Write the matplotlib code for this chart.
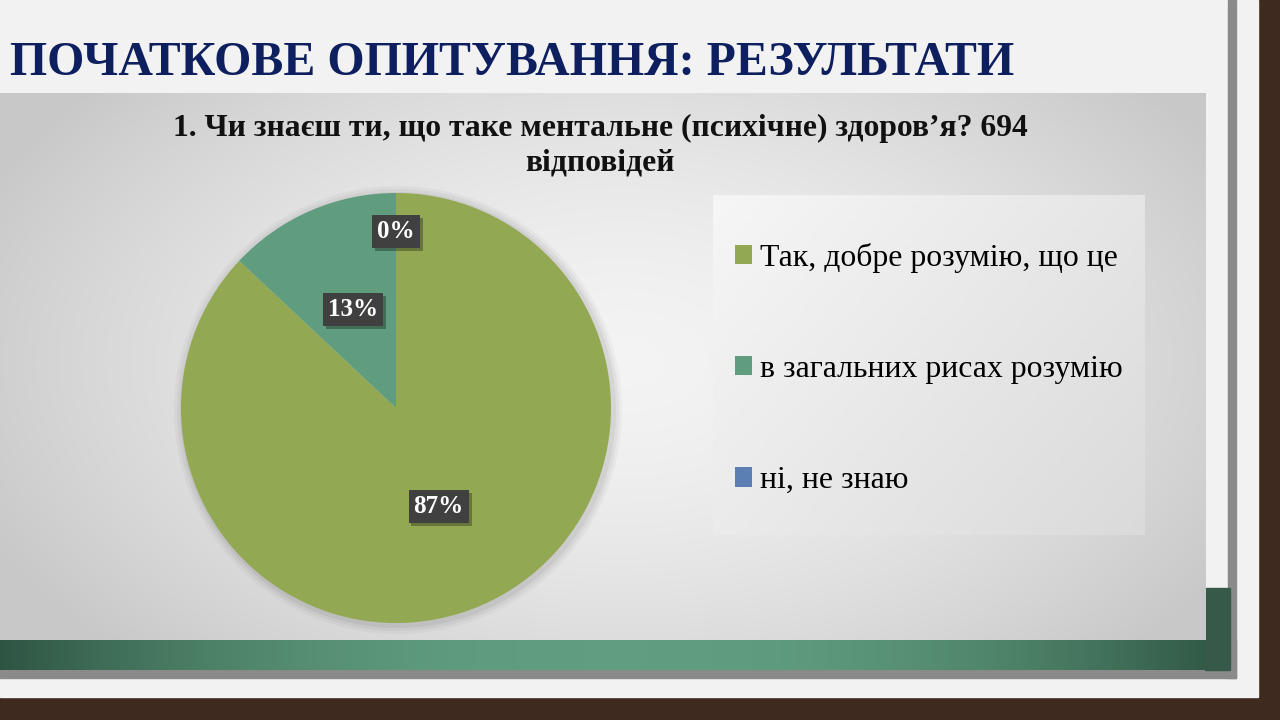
import numpy as np
import matplotlib
matplotlib.use('Agg')
import matplotlib.pyplot as plt
from matplotlib.patches import Rectangle, Circle
import matplotlib.patheffects as pe

slide_title = "ПОЧАТКОВЕ ОПИТУВАННЯ: РЕЗУЛЬТАТИ"
chart_title = "1. Чи знаєш ти, що таке ментальне (психічне) здоров’я? 694\nвідповідей"
categories = ["Так, добре розумію, що це", "в загальних рисах розумію", "ні, не знаю"]
shares = [87, 13, 0]
colors = ["#93a852", "#5f9d7e", "#5b7fb3"]

W, H = 1280, 720
fig = plt.figure(figsize=(12.8, 7.2), dpi=100)
bg = fig.add_axes([0, 0, 1, 1])
bg.axis('off')

# backdrop (brick wall tone) and slide paper
bg.add_patch(Rectangle((0, 0), W, H, color='#3f2a20', zorder=0))
bg.add_patch(Rectangle((0, 0), 1258, 697, color='#f2f2f2', zorder=1))

# grey shadow strips
bg.add_patch(Rectangle((1228, 0), 8, 678, color='#8a8a8a', zorder=2))
bg.add_patch(Rectangle((0, 640), 1236, 38, color='#8a8a8a', zorder=2))

# green band with horizontal gradient
gx = np.linspace(-1, 1, 400)
t = np.clip(1 - np.abs(gx) ** 2.2, 0, 1)
c_dark = np.array([0.18, 0.33, 0.26])
c_light = np.array([0.38, 0.62, 0.50])
band = (c_dark[None, :] * (1 - t[:, None]) + c_light[None, :] * t[:, None])[None, :, :]
bg.imshow(band, extent=(0, 1230, 670, 640), aspect='auto', zorder=3)
bg.add_patch(Rectangle((1205, 588), 25, 82, color='#36594a', zorder=3))

# chart area with radial gradient
ny, nx = 200, 400
yy, xx = np.mgrid[0:ny, 0:nx]
dx = (xx / nx * 1206 - 620) / 700
dy = (yy / ny * 547 + 93 - 360) / 420
d = np.clip(np.sqrt(dx ** 2 + dy ** 2), 0, 1)
val = 0.955 - 0.17 * d ** 1.6
chart_bg = np.dstack([val, val, val])
bg.imshow(chart_bg, extent=(0, 1206, 640, 93), aspect='auto', zorder=4, origin='upper')

# legend box with diagonal gradient
ly, lx = np.mgrid[0:100, 0:100]
lv = 0.965 - 0.11 * ((lx / 100) * 0.6 + (ly / 100) * 0.4)
bg.imshow(np.dstack([lv, lv, lv]), extent=(713, 1145, 535, 195), aspect='auto', zorder=5, origin='upper')

# pie shadow halo
for k, a in enumerate([0.05, 0.04, 0.03]):
    bg.add_patch(Circle((398, 410), 215 + 3 * (k + 1), color='black', alpha=a, lw=0, zorder=5))

bg.set_xlim(0, W)
bg.set_ylim(H, 0)

serif = ['Liberation Serif', 'DejaVu Serif']

# slide title, fitted to the reference width
tt = fig.text(10 / W, 1 - 75 / H, slide_title, fontsize=36, fontweight='bold', color='#0d1f5e',
              family=serif, va='baseline', ha='left')
fig.canvas.draw()
wpx = tt.get_window_extent().width
tt.set_fontsize(36 * 1005 / wpx)

# chart title
fig.text(600 / W, 1 - 146 / H, chart_title, fontsize=22.8, fontweight='bold', color='#111111',
         family=serif, ha='center', va='center', multialignment='center', linespacing=1.25)

# pie
cx, cy, r = 396, 408, 215
pax = fig.add_axes([(cx - r) / W, (H - cy - r) / H, 2 * r / W, 2 * r / H])
wedges, _ = pax.pie(shares, colors=colors, startangle=90, counterclock=False, radius=1,
                    wedgeprops=dict(linewidth=0))
pax.set_xlim(-1, 1)
pax.set_ylim(-1, 1)
pax.set_aspect('auto')
pax.axis('off')

for w, v in zip(wedges, shares):
    ang = np.deg2rad((w.theta1 + w.theta2) / 2)
    dist = 0.5 if v > 0 else 0.82
    x, y = dist * np.cos(ang), dist * np.sin(ang)
    lab = pax.text(x, y, f"{v}%", ha='center', va='center',
                   color='white', fontsize=18, fontweight='bold', family=serif,
                   bbox=dict(boxstyle='square,pad=0.2', facecolor='#404040', edgecolor='none'))
    lab.get_bbox_patch().set_path_effects(
        [pe.SimplePatchShadow(offset=(2, -2), shadow_rgbFace='black', alpha=0.3), pe.Normal()])

# legend
fs = 22.9
em = fs * 100 / 72
fig.legend(wedges, categories, loc='center left',
           bbox_to_anchor=(735 / W, 1 - 369 / H), frameon=False,
           prop=dict(family=serif, size=fs),
           labelspacing=(114 - em) / em, handlelength=0.55, handleheight=0.55,
           handletextpad=0.25, borderpad=0, borderaxespad=0)

fig.savefig('out.png', dpi=100)
